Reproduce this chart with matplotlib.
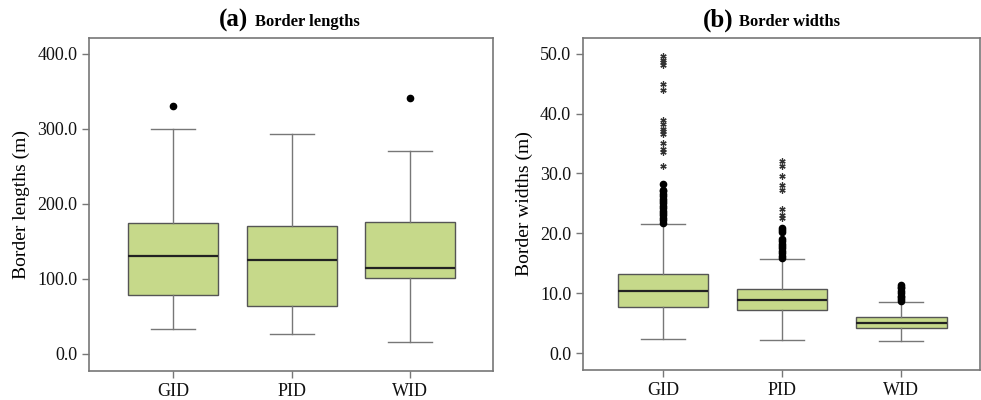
import numpy as np
import matplotlib.pyplot as plt

plt.rcParams['font.family'] = ['Liberation Serif', 'DejaVu Serif']

groups = ['GID', 'PID', 'WID']

# (a) border lengths: whisker low, q1, median, q3, whisker high
len_low = [33, 27, 16]
len_q1 = [78, 64, 101]
len_med = [130, 125, 115]
len_q3 = [175, 171, 176]
len_high = [300, 293, 270]
len_outliers = [[330], [], [341]]

# (b) border widths
wid_low = [2.3, 2.2, 2.0]
wid_q1 = [7.7, 7.2, 4.2]
wid_med = [10.4, 8.8, 5.1]
wid_q3 = [13.3, 10.7, 6.0]
wid_high = [21.6, 15.8, 8.6]
# mild outliers (dots)
wid_dots = [
    [21.8, 22.2, 22.6, 23.0, 23.4, 23.8, 24.2, 24.6, 25.0, 25.4, 25.8,
     26.2, 26.6, 27.0, 27.2, 28.2],
    [15.9, 16.3, 16.7, 17.1, 17.5, 17.9, 18.3, 18.7, 19.1, 20.2, 20.6, 20.9],
    [8.7, 9.0, 9.3, 9.6, 10.0, 10.4, 10.8, 11.1, 11.4],
]
# extreme outliers (asterisks)
wid_stars = [
    [31.2, 33.5, 34.0, 35.0, 36.6, 37.0, 37.4, 38.3, 39.0, 44.0, 45.0,
     48.1, 48.6, 49.0, 49.6],
    [22.6, 23.0, 24.0, 27.3, 28.1, 29.5, 31.3, 32.0],
    [],
]

box_color = '#c6d98a'
edge_color = '#555555'
gray = '#777777'


def make_stats(low, q1, med, q3, high, fliers):
    stats = []
    for i in range(len(groups)):
        stats.append(dict(whislo=low[i], q1=q1[i], med=med[i], q3=q3[i],
                          whishi=high[i], fliers=fliers[i], label=groups[i]))
    return stats


def style_axis(ax):
    for s in ax.spines.values():
        s.set_color(gray)
        s.set_linewidth(1.2)
    ax.tick_params(labelcolor='#111111', labelsize=13, length=5, width=1,
                   direction='out', color=gray)


fig = plt.figure(figsize=(9.81, 4.0), dpi=100)
ax1 = fig.add_axes([89 / 981, 1 - 371 / 400, 404 / 981, 333 / 400])
ax2 = fig.add_axes([583 / 981, 1 - 370 / 400, 397 / 981, 332 / 400])

boxprops = dict(facecolor=box_color, edgecolor=edge_color, linewidth=1)
medianprops = dict(color='#222222', linewidth=1.6)
whiskerprops = dict(color=gray, linewidth=1)
capprops = dict(color=gray, linewidth=1)

# panel (a)
ax1.bxp(make_stats(len_low, len_q1, len_med, len_q3, len_high, len_outliers),
        positions=[1, 2, 3], widths=0.76, capwidths=0.37, patch_artist=True,
        boxprops=boxprops, medianprops=medianprops, whiskerprops=whiskerprops,
        capprops=capprops,
        flierprops=dict(marker='o', markerfacecolor='black', markeredgecolor='black',
                        markersize=4.5))
ax1.set_xlim(0.29, 3.70)
ax1.set_ylim(-22.7, 421)
ax1.set_yticks([0, 100, 200, 300, 400])
ax1.set_yticklabels(['%.1f' % v for v in [0, 100, 200, 300, 400]])
ax1.set_ylabel('Border lengths (m)', fontsize=14, labelpad=5)
style_axis(ax1)
ax1.text(0.394, 1.035, '(a)', transform=ax1.transAxes, ha='right', va='baseline',
         fontsize=18, fontweight='bold')
ax1.text(0.411, 1.035, 'Border lengths', transform=ax1.transAxes, ha='left',
         va='baseline', fontsize=12, fontweight='bold')

# panel (b)
ax2.bxp(make_stats(wid_low, wid_q1, wid_med, wid_q3, wid_high, wid_dots),
        positions=[1, 2, 3], widths=0.76, capwidths=0.37, patch_artist=True,
        boxprops=boxprops, medianprops=medianprops, whiskerprops=whiskerprops,
        capprops=capprops,
        flierprops=dict(marker='o', markerfacecolor='black', markeredgecolor='black',
                        markersize=4.5))
for i, vals in enumerate(wid_stars):
    if vals:
        ax2.plot([i + 1] * len(vals), vals, linestyle='none', marker=(6, 2, 0),
                 markersize=4.5, markeredgewidth=0.9, color='#333333')
ax2.set_xlim(0.33, 3.66)
ax2.set_ylim(-2.8, 52.6)
ax2.set_yticks([0, 10, 20, 30, 40, 50])
ax2.set_yticklabels(['%.1f' % v for v in [0, 10, 20, 30, 40, 50]])
ax2.set_ylabel('Border widths (m)', fontsize=14, labelpad=5)
style_axis(ax2)
ax2.text(0.378, 1.035, '(b)', transform=ax2.transAxes, ha='right', va='baseline',
         fontsize=18, fontweight='bold')
ax2.text(0.393, 1.035, 'Border widths', transform=ax2.transAxes, ha='left',
         va='baseline', fontsize=12, fontweight='bold')

fig.savefig('out.png', dpi=100)
